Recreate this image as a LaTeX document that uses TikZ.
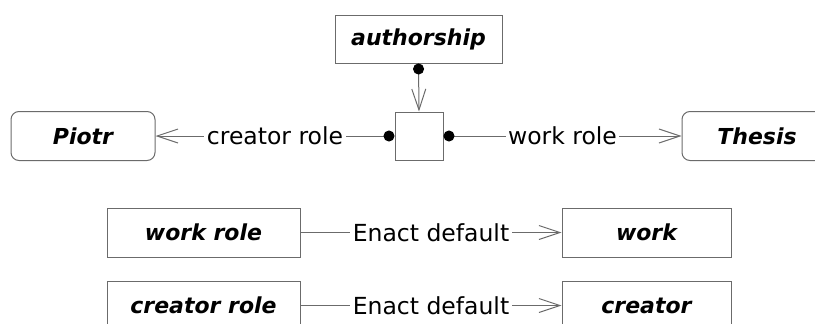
\documentclass[tikz,border=0pt]{standalone}
\usepackage{fontspec}
\setmainfont{DejaVu Sans}[BoldFont={DejaVu Sans Bold},ItalicFont={DejaVu Sans Oblique},BoldItalicFont={DejaVu Sans Bold Oblique}]
\usetikzlibrary{arrows.meta}
\definecolor{linegray}{gray}{0.42}
\begin{document}
\begin{tikzpicture}[x=1pt,y=-1pt,
  box/.style={draw=linegray, line width=1pt, minimum width=#1, minimum height=49pt,
    inner sep=0pt, font=\fontsize{22}{26}\selectfont\bfseries\itshape},
  rbox/.style={box=#1, rounded corners=8pt},
  lbl/.style={fill=white, inner sep=2.5pt, font=\fontsize{23.5}{28}\selectfont},
  conn/.style={draw=linegray, line width=1pt},
  dotstart/.style={{Circle[length=11pt,color=black]}-{Straight Barb[length=21pt,width=14pt]}},
  openend/.style={-{Straight Barb[length=21pt,width=14pt]}}
]
\useasboundingbox (0,0) rectangle (815,324);
\clip (0,0) rectangle (815,324);

\node[box=167pt, minimum height=48pt] (auth) at (418.5,39) {authorship};
\node[draw=linegray, line width=1pt, minimum width=48pt, minimum height=48pt, inner sep=0pt] (hub) at (419,136) {};
\node[rbox=144pt] (piotr) at (83,136) {Piotr};
\node[rbox=150pt] (thesis) at (757,136) {Thesis};

\node[box=193pt] (wr) at (203.5,232.5) {work role};
\node[box=169pt] (work) at (646.5,232.5) {work};
\node[box=193pt] (cr) at (203.5,305.5) {creator role};
\node[box=169pt] (creator) at (646.5,305.5) {creator};

\draw[conn, dotstart] (auth.south) -- (hub.north);
\draw[conn, dotstart] (hub.west) -- node[lbl] {creator role} (piotr.east);
\draw[conn, dotstart] (hub.east) -- node[lbl] {work role} (thesis.west);
\draw[conn, openend] (wr.east) -- node[lbl] {Enact default} (work.west);
\draw[conn, openend] (cr.east) -- node[lbl] {Enact default} (creator.west);
\end{tikzpicture}
\end{document}
